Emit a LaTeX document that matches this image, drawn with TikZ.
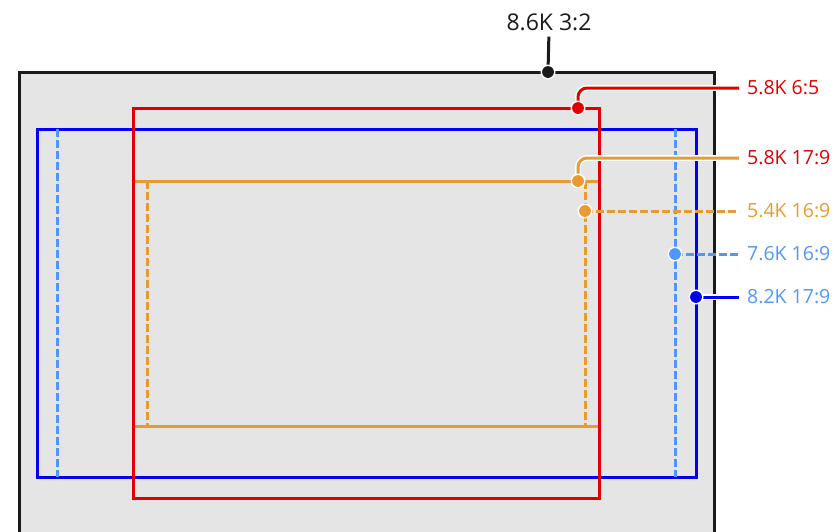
\documentclass[tikz,border=0pt]{standalone}
\usepackage{fontspec}
\setmainfont{Open Sans}
\definecolor{cred}{HTML}{E10000}
\definecolor{cblue}{HTML}{0000F5}
\definecolor{clblue}{HTML}{4F96FF}
\definecolor{corange}{HTML}{E89B2E}
\definecolor{cgray}{HTML}{E5E5E5}
\definecolor{cblack}{HTML}{1A1A1A}
\tikzset{
  frame/.style={line width=3pt},
  dashframe/.style={line width=3pt, dash pattern=on 8pt off 3pt},
  halo/.style={white, line width=5.8pt},
  leader/.style={line width=3pt, rounded corners=9pt},
  lbl/.style={anchor=west, inner sep=0pt, font=\fontsize{19.5}{22}\selectfont},
}
\newcommand{\mydot}[2]{\fill[white] (#1) circle (7.5pt); \fill[#2] (#1) circle (5.9pt);}
\begin{document}
\begin{tikzpicture}[x=1pt,y=-1pt]
\useasboundingbox (0,0) rectangle (834,531);
% outer 3:2
\draw[frame, cblack, fill=cgray] (19,540) -- (19,72) -- (714,72) -- (714,540);
% coordinates of dots
\coordinate (d0) at (548,72);
\coordinate (d1) at (578,108);
\coordinate (d2) at (578,181);
\coordinate (d3) at (585,211);
\coordinate (d4) at (675,254);
\coordinate (d5) at (696,297);
% labels
\node[inner sep=0pt, font=\fontsize{23}{26}\selectfont, cblack] (l0) at (549,22) {8.6K 3:2};
\node[lbl, cred] (l1) at (747,88) {5.8K 6:5};
\node[lbl, cred] (l2) at (747,158) {5.8K 17:9};
\node[lbl, corange] (l3) at (747,211) {5.4K 16:9};
\node[lbl, clblue] (l4) at (747,254) {7.6K 16:9};
\node[lbl, clblue] (l5) at (747,297) {8.2K 17:9};
% blue 8.2K 17:9
\draw[frame, cblue] (37,129) rectangle (696,477);
% light blue 7.6K 16:9
\draw[dashframe, clblue] (57,129) -- (57,477);
\draw[dashframe, clblue] (675,129) -- (675,477);
% red 6:5
\draw[frame, cred] (133,108) rectangle (599,498);
% orange 17:9
\draw[frame, corange] (134.5,181) -- (597.5,181);
\draw[frame, corange] (134.5,426) -- (597.5,426);
% orange dashed 16:9
\draw[dashframe, corange] (147,181) -- (147,426);
\draw[dashframe, corange] (585,181) -- (585,426);
% leaders
\draw[line width=3pt, cblack, shorten <=6pt] (l0.south) -- (d0);
\draw[halo, rounded corners=9pt] (d1) -- (d1 |- l1.west) -- ([xshift=-8pt]l1.west);
\draw[leader, cred] (d1) -- (d1 |- l1.west) -- ([xshift=-8pt]l1.west);
\draw[halo, rounded corners=9pt] (d2) -- (d2 |- l2.west) -- ([xshift=-8pt]l2.west);
\draw[leader, corange] (d2) -- (d2 |- l2.west) -- ([xshift=-8pt]l2.west);
\draw[leader, corange, dash pattern=on 8pt off 3pt] (d3) -- ([xshift=-8pt]l3.west);
\draw[leader, clblue, dash pattern=on 8pt off 3pt] (d4) -- ([xshift=-8pt]l4.west);
\draw[halo] (d5) -- ([xshift=-8pt]l5.west);
\draw[leader, cblue] (d5) -- ([xshift=-8pt]l5.west);
% dots
\mydot{d0}{cblack}
\mydot{d1}{cred}
\mydot{d2}{corange}
\mydot{d3}{corange}
\mydot{d4}{clblue}
\mydot{d5}{cblue}
\end{tikzpicture}
\end{document}
